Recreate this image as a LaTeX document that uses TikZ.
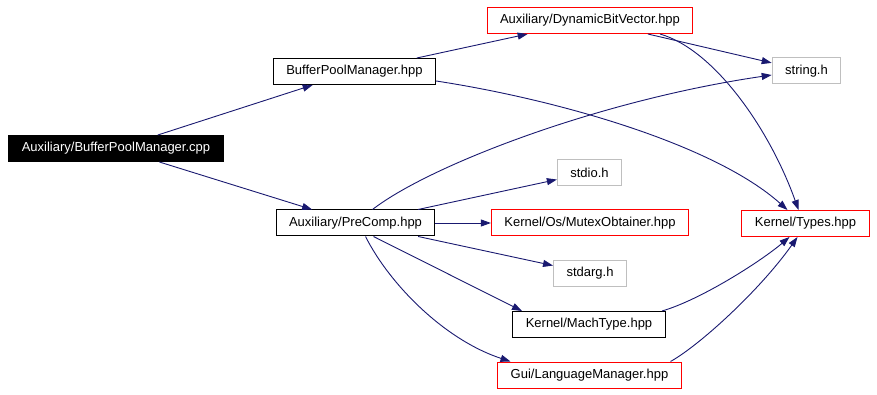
\documentclass[tikz,border=0pt]{standalone}
\usepackage{fontspec}
\setmainfont{Liberation Sans}
\usetikzlibrary{arrows.meta}

\definecolor{depblue}{HTML}{191970}
\definecolor{sysgray}{HTML}{BFBFBF}

\tikzset{
	hdr/.style={draw=black, line width=1pt, fill=white, font=\fontsize{13}{15}\selectfont,
		inner xsep=13pt, inner ysep=0pt, minimum height=26pt},
	hdrred/.style={hdr, draw=red},
	hdrsys/.style={hdr, draw=sysgray},
	rootfile/.style={hdr, fill=black, text=white},
	dep/.style={depblue, line width=0.9pt, -{Triangle[length=10pt, width=7pt]}}
}

\begin{document}
\begin{tikzpicture}[x=1pt,y=-1pt]
	\useasboundingbox (0,0) rectangle (877,395);
	% files
	\node[rootfile] (root) at (116,148.5) {Auxiliary/BufferPoolManager.cpp};
	\node[hdr] (bpm) at (354.5,71.5) {BufferPoolManager.hpp};
	\node[hdrred] (dbv) at (590,20.5) {Auxiliary/DynamicBitVector.hpp};
	\node[hdrsys] (strh) at (806.5,71) {string.h};
	\node[hdrsys] (stdio) at (589.5,172.5) {stdio.h};
	\node[hdr] (pre) at (355.5,223) {Auxiliary/PreComp.hpp};
	\node[hdrred] (mutex) at (590,223) {Kernel/Os/MutexObtainer.hpp};
	\node[hdrred] (types) at (805.5,223.5) {Kernel/Types.hpp};
	\node[hdrsys] (stdarg) at (590,273.5) {stdarg.h};
	\node[hdr] (mach) at (589,324.5) {Kernel/MachType.hpp};
	\node[hdrred] (gui) at (589.5,375) {Gui/LanguageManager.hpp};
	% includes
	\draw[dep] (root) -- (bpm);
	\draw[dep] (root) -- (pre);
	\draw[dep] (bpm) -- (dbv);
	\draw[dep] (bpm.east |- 0,81) .. controls (560,100) and (715,145) .. ([xshift=-18pt]types.north);
	\draw[dep] (dbv) -- (strh);
	\draw[dep] ([xshift=70pt]dbv.south) .. controls (715,50) and (770,130) .. ([xshift=-7pt]types.north);
	\draw[dep] ([xshift=17pt]pre.north) .. controls (430,165) and (600,100) .. (strh.west |- 0,75);
	\draw[dep] (pre) -- (stdio);
	\draw[dep] (pre) -- (mutex);
	\draw[dep] (pre) -- (stdarg);
	\draw[dep] ([xshift=18pt]pre.south) -- ([xshift=-67pt]mach.north);
	\draw[dep] ([xshift=10pt]pre.south) .. controls (390,285) and (445,340) .. ([xshift=-79pt]gui.north);
	\draw[dep] ([xshift=73pt]mach.north) .. controls (700,300) and (760,262) .. ([xshift=-16pt]types.south);
	\draw[dep] ([xshift=81pt]gui.north) .. controls (700,345) and (760,290) .. ([xshift=-8pt]types.south);
\end{tikzpicture}
\end{document}
